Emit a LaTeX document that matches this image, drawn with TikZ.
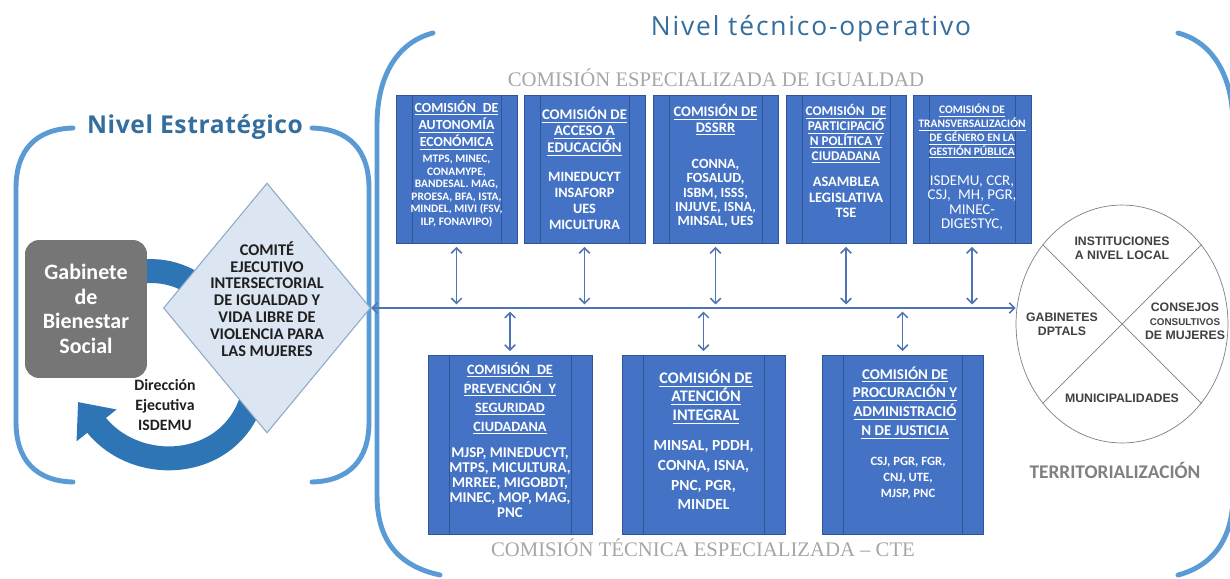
\documentclass[tikz,border=0pt]{standalone}
\usepackage{fontspec}
\setmainfont{Carlito}
\newfontfamily\titlefont{Open Sans}[LetterSpace=7]
\newfontfamily\leveltitle{Open Sans}[LetterSpace=2.5]
\newfontfamily\capfont{Liberation Serif}
\newfontfamily\ruedafont{Liberation Sans}
\usetikzlibrary{arrows.meta,shapes.geometric,positioning}

\definecolor{panelblue}{RGB}{91,155,213}
\definecolor{boxblue}{RGB}{68,114,196}
\definecolor{boxline}{RGB}{47,85,151}
\definecolor{flowblue}{RGB}{79,116,181}
\definecolor{cycleblue}{RGB}{46,117,182}
\definecolor{titleblue}{RGB}{52,110,158}
\definecolor{comitefill}{RGB}{220,230,242}
\definecolor{comiteline}{RGB}{141,169,200}
\definecolor{comitetext}{RGB}{31,31,31}
\definecolor{gabgray}{RGB}{118,118,118}
\definecolor{captiongray}{RGB}{166,166,166}
\definecolor{ruedaline}{RGB}{127,127,127}
\definecolor{ruedagray}{RGB}{64,64,64}
\definecolor{terrgray}{RGB}{128,128,128}

\newcommand\fs[2]{\fontsize{#1}{#2}\selectfont}
\newcommand\hd[1]{\underline{#1}}

\begin{document}
\begin{tikzpicture}[x=0.02cm,y=-0.02cm,semithick,
    >={Straight Barb[length=3pt,width=6pt]},
    comibox/.style={fill=boxblue,draw=boxline,thin,
      path picture={\draw[boxline]
        ([xshift=#1]path picture bounding box.north west) --
        ([xshift=#1]path picture bounding box.south west)
        ([xshift=-#1]path picture bounding box.north east) --
        ([xshift=-#1]path picture bounding box.south east);}},
    topbox/.style={comibox=0.32cm,minimum height=2.96cm},
    lowbox/.style={comibox=0.42cm,minimum height=3.58cm},
    boxtext/.style={text=white,align=center,inner sep=0pt},
    flow/.style={flowblue,line width=0.9pt,<->,shorten <=2pt,shorten >=2pt},
    panel/.style={panelblue,line width=2.8pt,line cap=round},
    rueda/.style={text=ruedagray,align=center,inner sep=0pt,
      font=\ruedafont\bfseries\fs{7}{8}}]

  \clip (0,0) rectangle (1230,578);

  % brackets of both levels
  \draw[panel] (73,128) .. controls (36,129) and (16,150) .. (16,188) -- (16,422)
    .. controls (16,460) and (36,481) .. (73,482);
  \draw[panel] (312,128) .. controls (349,129) and (369,150) .. (369,188) -- (369,422)
    .. controls (369,460) and (349,481) .. (312,482);
  \draw[panel] (433,33) .. controls (398,42) and (377,75) .. (377,125) -- (377,495)
    .. controls (377,540) and (398,566) .. (440,575);
  \draw[panel] (1178,33) .. controls (1212,42) and (1233,75) .. (1233,125) -- (1233,495)
    .. controls (1233,540) and (1212,566) .. (1178,575);

  \node[text=titleblue,font=\titlefont\fs{15}{17}] (tecnico) at (811,29) {Nivel técnico-operativo};
  \node[text=titleblue,font=\leveltitle\bfseries\fs{14}{16}] (estrategico) at (195,127) {Nivel Estratégico};

  \node[text=captiongray,font=\capfont\fs{11.8}{14}] (igualdad) at (716,78) {COMISIÓN ESPECIALIZADA DE IGUALDAD};
  \node[text=captiongray,font=\capfont\fs{11.8}{14}] (cte) at (703,548) {COMISIÓN TÉCNICA ESPECIALIZADA – CTE};

  % circular arrow behind the strategic nodes
  \draw[cycleblue,line width=13.6pt] (128,274) .. controls (160,266) and (188,274) .. (215,300);
  \draw[cycleblue,line width=13.6pt,-{Triangle[length=17pt,width=28pt]}]
    (255,385) .. controls (242,468) and (140,480) .. (78,402);

  \node[fill=gabgray,rounded corners=8pt,minimum width=2.44cm,minimum height=2.76cm,
        text=white,align=center,font=\bfseries\fs{12.5}{14}] (gabinete) at (86,309)
        {Gabinete\\de\\Bienestar\\Social};
  \node[diamond,fill=comitefill,draw=comiteline,minimum width=4.14cm,minimum height=5cm,
        inner sep=0pt] (comite) at (267,308) {};
  \node[align=center,text=comitetext,font=\bfseries\fs{9.3}{9.6}] (comitelbl) at (267,299)
        {COMITÉ\\EJECUTIVO\\INTERSECTORIAL\\DE IGUALDAD Y\\VIDA LIBRE DE\\VIOLENCIA PARA\\LAS MUJERES};
  \node[align=center,text=comitetext,font=\bfseries\fs{9}{11.3}] (direccion) at (165,405)
        {Dirección\\Ejecutiva\\ISDEMU};

  % comisiones
  \node[topbox,minimum width=2.42cm] (autonomia)     at (456.5,169) {};
  \node[topbox,minimum width=2.42cm] (educacion)     at (584.5,169) {};
  \node[topbox,minimum width=2.5cm]  (dssrr)         at (715.5,169) {};
  \node[topbox,minimum width=2.4cm]  (participacion) at (846,169)   {};
  \node[topbox,minimum width=2.36cm] (transversal)   at (972,169)   {};
  \node[lowbox,minimum width=3.28cm] (prevencion)    at (510,444.5) {};
  \node[lowbox,minimum width=3.26cm] (atencion)      at (703.5,444.5) {};
  \node[lowbox,minimum width=3.22cm] (procuracion)   at (902.5,444.5) {};

  \node[boxtext,font=\bfseries\fs{7.9}{9.9}] (autonomiaHd) at (456.5,125.5)
    {\hd{COMISIÓN\enspace DE}\\\hd{AUTONOMÍA}\\\hd{ECONÓMICA}};
  \node[boxtext,font=\bfseries\fs{6.5}{7.1}] (autonomiaBd) at (456.5,191)
    {MTPS, MINEC,\\CONAMYPE,\\BANDESAL. MAG,\\PROESA, BFA, ISTA,\\MINDEL, MIVI (FSV,\\ILP, FONAVIPO)};
  \node[boxtext,font=\bfseries\fs{8.4}{9.4}] (educacionHd) at (584.5,131.5)
    {\hd{COMISIÓN DE}\\\hd{ACCESO A}\\\hd{EDUCACIÓN}};
  \node[boxtext,font=\bfseries\fs{8.1}{9.1}] (educacionBd) at (584.5,201)
    {MINEDUCYT\\INSAFORP\\UES\\MICULTURA};
  \node[boxtext,font=\bfseries\fs{8.3}{9}] (dssrrHd) at (715.5,120)
    {\hd{COMISIÓN DE}\\\hd{DSSRR}};
  \node[boxtext,font=\bfseries\fs{8}{8.1}] (dssrrBd) at (715.5,193.5)
    {CONNA,\\FOSALUD,\\ISBM, ISSS,\\INJUVE, ISNA,\\MINSAL, UES};
  \node[boxtext,font=\bfseries\fs{7.6}{8.5}] (participacionHd) at (846,134)
    {\hd{COMISIÓN\enspace DE}\\\hd{PARTICIPACIÓ}\\\hd{N POLÍTICA Y}\\\hd{CIUDADANA}};
  \node[boxtext,font=\bfseries\fs{8.2}{9}] (participacionBd) at (846,197.5)
    {ASAMBLEA\\LEGISLATIVA\\TSE};
  \node[boxtext,font=\bfseries\fs{6.5}{7.8}] (transversalHd) at (972,131.5)
    {\hd{COMISIÓN DE}\\\hd{TRANSVERSALIZACIÓN}\\\hd{DE GÉNERO EN LA}\\\hd{GESTIÓN PÚBLICA}};
  \node[boxtext,font=\fs{8.5}{8.2}] (transversalBd) at (972,203)
    {ISDEMU, CCR,\\CSJ,\enspace MH, PGR,\\MINEC-\\DIGESTYC,};
  \node[boxtext,font=\bfseries\fs{8.1}{10.8}] (prevencionHd) at (510,398.5)
    {\hd{COMISIÓN\enspace DE}\\\hd{PREVENCIÓN\enspace Y}\\\hd{SEGURIDAD}\\\hd{CIUDADANA}};
  \node[boxtext,font=\bfseries\fs{8.5}{8.5}] (prevencionBd) at (510,483)
    {MJSP, MINEDUCYT,\\MTPS, MICULTURA,\\MRREE, MIGOBDT,\\MINEC, MOP, MAG,\\PNC};
  \node[boxtext,font=\bfseries\fs{9.2}{10.6}] (atencionHd) at (706,397)
    {\hd{COMISIÓN DE}\\\hd{ATENCIÓN}\\\hd{INTEGRAL}};
  \node[boxtext,font=\bfseries\fs{8.8}{11.3}] (atencionBd) at (703.5,475)
    {MINSAL, PDDH,\\CONNA, ISNA,\\PNC, PGR,\\MINDEL};
  \node[boxtext,font=\bfseries\fs{8.5}{10.8}] (procuracionHd) at (905,403)
    {\hd{COMISIÓN DE}\\\hd{PROCURACIÓN Y}\\\hd{ADMINISTRACIÓ}\\\hd{N DE JUSTICIA}};
  \node[boxtext,font=\bfseries\fs{7.2}{9}] (procuracionBd) at (908,478)
    {CSJ, PGR, FGR,\\CNJ, UTE,\\MJSP, PNC};

  % territorializacion
  \node[ellipse,draw=ruedaline,thin,minimum width=4.24cm,minimum height=4.76cm,
        inner sep=0pt] (territorio) at (1122,324) {};
  \draw[ruedaline,thin] (territorio.135) -- (territorio.-45)
                        (territorio.45) -- (territorio.-135);
  \node[rueda] (instituciones)   at (1122,248) {INSTITUCIONES\\A NIVEL LOCAL};
  \node[rueda] (gabinetes)       at (1062,324) {GABINETES\\DPTALS};
  \node[rueda] (consejos)        at (1185,321) {CONSEJOS\\{\fs{5.6}{8}CONSULTIVOS}\\DE MUJERES};
  \node[rueda] (municipalidades) at (1122,398) {MUNICIPALIDADES};
  \node[text=terrgray,font=\bfseries\fs{11}{13}] (territorializacion) at (1115,470)
        {TERRITORIALIZACIÓN};

  % connectors
  \draw[flowblue,line width=0.9pt,<->] (comite.east) -- (comite.east -| territorio.west);
  \foreach \c in {autonomia,educacion,dssrr,participacion,transversal}
    \draw[flow] (\c.south) -- (\c.south |- comite.east);
  \foreach \c in {prevencion,atencion,procuracion}
    \draw[flow] (\c.north |- comite.east) -- (\c.north);
\end{tikzpicture}
\end{document}
